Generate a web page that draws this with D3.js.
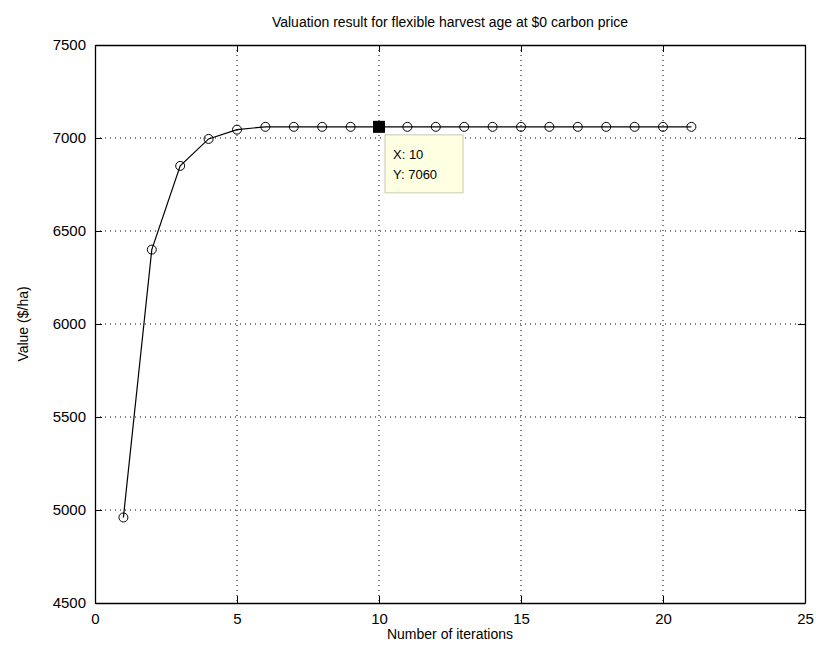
<!DOCTYPE html>
<html>
<head>
<meta charset="utf-8">
<script src="https://cdn.jsdelivr.net/npm/d3@7"></script>
<style>
  body { margin: 0; background: #fff; }
  svg text { font-family: "Liberation Sans", Arial, sans-serif; fill: #000; }
</style>
</head>
<body>
<svg id="chart" width="816" height="660"></svg>
<script>
const iterations = d3.range(1, 22);
const values = [4960, 6400, 6850, 6995, 7045, 7060, 7060, 7060, 7060, 7060, 7060,
  7060, 7060, 7060, 7060, 7060, 7060, 7060, 7060, 7060, 7060];
const xTicks = [0, 5, 10, 15, 20, 25];
const yTicks = [4500, 5000, 5500, 6000, 6500, 7000, 7500];
const tip = { x: 10, y: 7060 };

const svg = d3.select("#chart");
const pLeft = 95, pRight = 805, pTop = 45, pBottom = 603;

const x = d3.scaleLinear().domain([0, 25]).range([pLeft, pRight]);
const y = d3.scaleLinear().domain([4500, 7500]).range([pBottom, pTop]);

const plot = svg.append("g");

// grid
plot.selectAll(".gx")
  .data(xTicks.slice(1, -1))
  .enter()
  .append("line")
  .attr("x1", d => x(d)).attr("x2", d => x(d))
  .attr("y1", pTop).attr("y2", pBottom)
  .attr("stroke", "#000")
  .attr("stroke-width", 1)
  .attr("stroke-dasharray", "1,4");
plot.selectAll(".gy")
  .data(yTicks.slice(1, -1))
  .enter()
  .append("line")
  .attr("y1", d => y(d)).attr("y2", d => y(d))
  .attr("x1", pLeft).attr("x2", pRight)
  .attr("stroke", "#000")
  .attr("stroke-width", 1)
  .attr("stroke-dasharray", "1,4");

// axes with inward ticks
const tickLen = 7;
const fmt = d3.format("d");
svg.append("g")
  .attr("transform", `translate(0,${pBottom})`)
  .call(d3.axisBottom(x).tickValues(xTicks).tickFormat(fmt).tickSizeInner(-tickLen).tickSizeOuter(0).tickPadding(10))
  .call(g => g.selectAll("text").attr("font-size", 15));
svg.append("g")
  .attr("transform", `translate(0,${pTop})`)
  .call(d3.axisTop(x).tickValues(xTicks).tickSizeInner(-tickLen).tickSizeOuter(0).tickFormat(""));
svg.append("g")
  .attr("transform", `translate(${pLeft},0)`)
  .call(d3.axisLeft(y).tickValues(yTicks).tickFormat(fmt).tickSizeInner(-tickLen).tickSizeOuter(0).tickPadding(9))
  .call(g => g.selectAll("text").attr("font-size", 15));
svg.append("g")
  .attr("transform", `translate(${pRight},0)`)
  .call(d3.axisRight(y).tickValues(yTicks).tickSizeInner(-tickLen).tickSizeOuter(0).tickFormat(""));
svg.selectAll(".domain").attr("stroke", "#000").attr("stroke-width", 1.3);
svg.selectAll(".tick line").attr("stroke", "#000");

// line + markers
const pts = iterations.map((d, i) => [d, values[i]]);
plot.append("path")
  .datum(pts)
  .attr("fill", "none")
  .attr("stroke", "#000")
  .attr("stroke-width", 1.2)
  .attr("d", d3.line().x(d => x(d[0])).y(d => y(d[1])));
plot.selectAll(".pt")
  .data(pts)
  .enter()
  .append("circle")
  .attr("cx", d => x(d[0]))
  .attr("cy", d => y(d[1]))
  .attr("r", 4.5)
  .attr("fill", "none")
  .attr("stroke", "#000")
  .attr("stroke-width", 1);

// data tip
const tx = x(tip.x), ty = y(tip.y);
plot.append("rect")
  .attr("x", tx - 6).attr("y", ty - 6)
  .attr("width", 12).attr("height", 12)
  .attr("fill", "#000");
const tipG = plot.append("g").attr("transform", `translate(${tx + 6},${ty + 8})`);
tipG.append("rect")
  .attr("width", 78).attr("height", 58)
  .attr("fill", "#ffffe1")
  .attr("stroke", "#c8c8b4")
  .attr("stroke-width", 1);
tipG.append("text").attr("x", 8).attr("y", 24).attr("font-size", 13).text(`X: ${tip.x}`);
tipG.append("text").attr("x", 8).attr("y", 44).attr("font-size", 13).text(`Y: ${tip.y}`);

// titles
svg.append("text")
  .attr("x", (pLeft + pRight) / 2).attr("y", 27)
  .attr("text-anchor", "middle")
  .attr("font-size", 14)
  .text("Valuation result for flexible harvest age at $0 carbon price");
svg.append("text")
  .attr("x", (pLeft + pRight) / 2).attr("y", 639)
  .attr("text-anchor", "middle")
  .attr("font-size", 14)
  .text("Number of iterations");
svg.append("text")
  .attr("transform", `translate(28,${(pTop + pBottom) / 2}) rotate(-90)`)
  .attr("text-anchor", "middle")
  .attr("font-size", 14)
  .text("Value ($/ha)");
</script>
</body>
</html>
